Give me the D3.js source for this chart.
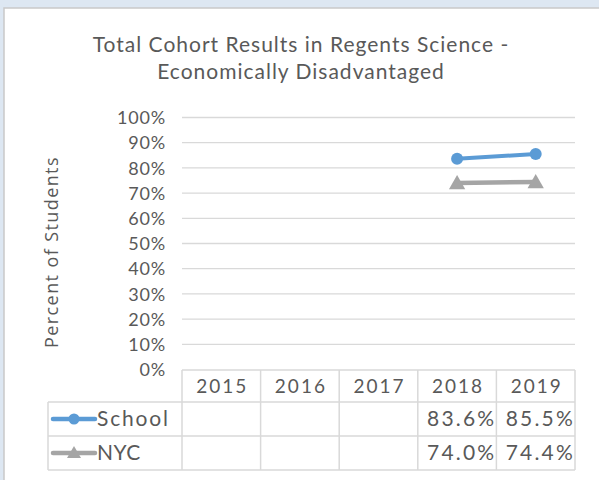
<!DOCTYPE html>
<html><head><meta charset="utf-8">
<script src="https://cdn.jsdelivr.net/npm/d3@7"></script>
<style>
html,body{margin:0;padding:0;background:#dde7f2;}
svg{display:block;}
</style></head>
<body>
<svg id="chart" width="599" height="480"></svg>
<script>
const years = ["2015","2016","2017","2018","2019"];
const schoolValues = [null,null,null,83.6,85.5];
const nycValues = [null,null,null,74.0,74.4];
const seriesNames = ["School","NYC"];
const yTicks = [0,10,20,30,40,50,60,70,80,90,100];
const titleLines = ["Total Cohort Results in Regents Science -","Economically Disadvantaged"];
const yLabel = "Percent of Students";

const svg = d3.select("#chart");
const textColor = "#595959";
const gridColor = "#d9d9d9";
const font = "Lato, 'Open Sans', sans-serif";

// background frame
svg.append("rect").attr("x",0).attr("y",0).attr("width",599).attr("height",480).attr("fill","#dde7f2");
svg.append("rect").attr("x",4).attr("y",8).attr("width",599).attr("height",480).attr("fill","#ffffff")
  .attr("stroke","#c9c9c9").attr("stroke-width",1.5);

// title
svg.append("g").selectAll("text").data(titleLines).join("text")
  .attr("x",301).attr("y",(d,i)=>52+i*27)
  .attr("text-anchor","middle").attr("fill",textColor)
  .style("font-family",font).style("font-size","21px").style("letter-spacing","1px")
  .text(d=>d);

const x = d3.scaleBand().domain(years).range([182,575]).padding(0);
const y = d3.scaleLinear().domain([0,100]).range([369.5,117.5]);

// gridlines
svg.append("g").selectAll("line").data(yTicks.filter(t=>t>0)).join("line")
  .attr("x1",182).attr("x2",575).attr("y1",d=>y(d)).attr("y2",d=>y(d))
  .attr("stroke",gridColor).attr("stroke-width",1.3);

// y axis labels
const yAxis = d3.axisLeft(y).tickValues(yTicks).tickFormat(d=>d+"%").tickSize(0).tickPadding(0);
const ga = svg.append("g").attr("transform","translate(166,0)").call(yAxis);
ga.select(".domain").remove();
ga.selectAll("text").attr("fill",textColor).style("font-family",font).style("font-size","18px")
  .style("letter-spacing","0.8px").attr("dy","0.34em");

// y label
svg.append("text").attr("transform","translate(58,252) rotate(-90)")
  .attr("text-anchor","middle").attr("fill",textColor)
  .style("font-family","'Open Sans', sans-serif").style("font-size","18px").style("letter-spacing","1.4px")
  .text(yLabel);

// lines
const schoolColor = "#5b9bd5", nycColor = "#a5a5a5";
const pts = vals => years.map((yr,i)=>({yr,v:vals[i]})).filter(d=>d.v!==null);
const line = d3.line().x(d=>x(d.yr)+x.bandwidth()/2).y(d=>y(d.v));
const tri = d3.symbol().type(d3.symbolTriangle).size(115);

svg.append("path").datum(pts(nycValues)).attr("d",line).attr("fill","none")
  .attr("stroke",nycColor).attr("stroke-width",4.5);
svg.append("g").selectAll("path").data(pts(nycValues)).join("path")
  .attr("d",tri).attr("transform",d=>`translate(${x(d.yr)+x.bandwidth()/2},${y(d.v)+1.5})`).attr("fill",nycColor);

svg.append("path").datum(pts(schoolValues)).attr("d",line).attr("fill","none")
  .attr("stroke",schoolColor).attr("stroke-width",4);
svg.append("g").selectAll("circle").data(pts(schoolValues)).join("circle")
  .attr("cx",d=>x(d.yr)+x.bandwidth()/2).attr("cy",d=>y(d.v)).attr("r",6).attr("fill",schoolColor);

// data table
const tTop = 370, hBot = 402, r1Bot = 436, r2Bot = 470, legLeft = 48;
const tbl = svg.append("g").attr("stroke",gridColor).attr("stroke-width",1.5).attr("fill","none");
tbl.append("line").attr("x1",182).attr("x2",575).attr("y1",tTop).attr("y2",tTop);
[hBot,r1Bot,r2Bot].forEach(yy=>tbl.append("line").attr("x1",legLeft).attr("x2",575).attr("y1",yy).attr("y2",yy));
tbl.append("line").attr("x1",legLeft).attr("x2",legLeft).attr("y1",hBot).attr("y2",r2Bot);
years.forEach(yr=>tbl.append("line").attr("x1",x(yr)).attr("x2",x(yr)).attr("y1",tTop).attr("y2",r2Bot));
tbl.append("line").attr("x1",575).attr("x2",575).attr("y1",tTop).attr("y2",r2Bot);

// header
svg.append("g").selectAll("text").data(years).join("text")
  .attr("x",d=>x(d)+x.bandwidth()/2+1).attr("y",(tTop+hBot)/2+7)
  .attr("text-anchor","middle").attr("fill",textColor)
  .style("font-family",font).style("font-size","19px").style("letter-spacing","2px")
  .text(d=>d);

// rows
const rows = [
  {name:seriesNames[0], vals:schoolValues, color:schoolColor, top:hBot, bot:r1Bot, ls:"1.8px"},
  {name:seriesNames[1], vals:nycValues, color:nycColor, top:r1Bot, bot:r2Bot, ls:"0.5px"}
];
rows.forEach((r,ri)=>{
  const cy = (r.top+r.bot)/2;
  svg.append("line").attr("x1",53).attr("x2",95).attr("y1",cy).attr("y2",cy)
    .attr("stroke",r.color).attr("stroke-width",4.5).attr("stroke-linecap","round");
  if(ri===0){
    svg.append("circle").attr("cx",74).attr("cy",cy).attr("r",5.5).attr("fill",r.color);
  } else {
    svg.append("path").attr("d",d3.symbol().type(d3.symbolTriangle).size(85))
      .attr("transform",`translate(74,${cy+1})`).attr("fill",r.color);
  }
  svg.append("text").attr("x",97).attr("y",cy+7).attr("fill",textColor)
    .style("font-family",font).style("font-size","21px").style("letter-spacing",r.ls).text(r.name);
  svg.append("g").selectAll("text").data(years.map((yr,i)=>({yr,v:r.vals[i]})).filter(d=>d.v!==null)).join("text")
    .attr("x",d=>x(d.yr)+x.bandwidth()).attr("y",cy+7).attr("text-anchor","end")
    .attr("fill",textColor).style("font-family",font).style("font-size","21px").style("letter-spacing","2.2px")
    .text(d=>d.v.toFixed(1)+"%");
});
</script>
</body></html>
